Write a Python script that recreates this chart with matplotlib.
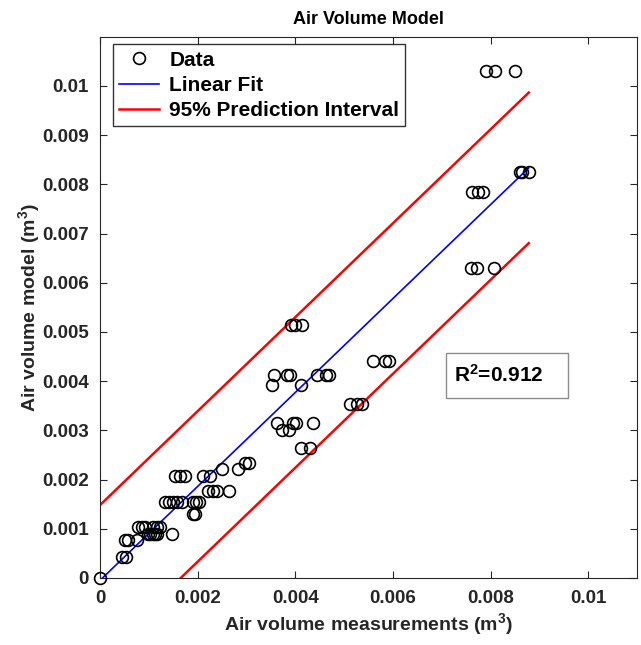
import matplotlib
matplotlib.use("Agg")
import matplotlib.pyplot as plt
from matplotlib.patches import Rectangle
import numpy as np

plt.rcParams['font.family'] = ['Liberation Sans', 'DejaVu Sans']
plt.rcParams['font.weight'] = 'bold'
plt.rcParams['mathtext.fontset'] = 'custom'
plt.rcParams['mathtext.rm'] = 'Liberation Sans:bold'
plt.rcParams['mathtext.bf'] = 'Liberation Sans:bold'
plt.rcParams['mathtext.it'] = 'Liberation Sans:bold'

# Measured (x) vs model (y) air volumes, m^3
meas_x = [0.0, 0.00045, 0.00053,
          0.00051, 0.00057, 0.00075,
          0.00078, 0.00086, 0.00092, 0.00108, 0.00116, 0.00123,
          0.00098, 0.00103, 0.00109, 0.00113, 0.00117, 0.00148,
          0.0019, 0.00195,
          0.00133, 0.00141, 0.0015, 0.00158, 0.00168, 0.0019, 0.00197, 0.00203,
          0.00221, 0.00232, 0.0024, 0.00264,
          0.00154, 0.00164, 0.00174, 0.00211, 0.00225,
          0.0025, 0.00283,
          0.00297, 0.00305,
          0.00412, 0.0043,
          0.00363, 0.00395, 0.00402, 0.00437,
          0.00372, 0.00388,
          0.00512, 0.00527, 0.00537,
          0.00352, 0.00412,
          0.00357, 0.00382, 0.0039, 0.00445, 0.00462, 0.00468,
          0.0056, 0.00583, 0.00592,
          0.00392, 0.004, 0.00413,
          0.0076, 0.00772, 0.00806,
          0.00762, 0.00775, 0.00785,
          0.0086, 0.00865, 0.00878,
          0.00791, 0.00809, 0.0085]
model_y = [0.0, 0.00043, 0.00043,
           0.00077, 0.00077, 0.00077,
           0.00103, 0.00103, 0.00103, 0.00103, 0.00103, 0.00103,
           0.00089, 0.00089, 0.00089, 0.00089, 0.00089, 0.00089,
           0.0013, 0.0013,
           0.00154, 0.00154, 0.00154, 0.00154, 0.00154, 0.00154, 0.00154, 0.00154,
           0.00176, 0.00176, 0.00176, 0.00176,
           0.00207, 0.00207, 0.00207, 0.00207, 0.00207,
           0.00221, 0.00221,
           0.00233, 0.00233,
           0.00265, 0.00265,
           0.00314, 0.00314, 0.00314, 0.00314,
           0.0030, 0.0030,
           0.00353, 0.00353, 0.00353,
           0.00392, 0.00392,
           0.00412, 0.00412, 0.00412, 0.00412, 0.00412, 0.00412,
           0.0044, 0.0044, 0.0044,
           0.00515, 0.00515, 0.00515,
           0.0063, 0.0063, 0.0063,
           0.00785, 0.00785, 0.00785,
           0.00825, 0.00825, 0.00825,
           0.0103, 0.0103, 0.0103]

fit_slope = 0.955
fit_intercept = -0.00005
pi_halfwidth = 0.00153
r_squared = 0.912

x_ticks = [0, 0.002, 0.004, 0.006, 0.008, 0.01]
x_tick_labels = ['0', '0.002', '0.004', '0.006', '0.008', '0.01']
y_ticks = [0, 0.001, 0.002, 0.003, 0.004, 0.005, 0.006, 0.007, 0.008, 0.009, 0.01]
y_tick_labels = ['0', '0.001', '0.002', '0.003', '0.004', '0.005', '0.006',
                 '0.007', '0.008', '0.009', '0.01']

fig = plt.figure(figsize=(6.41, 6.45), dpi=100)
ax = fig.add_axes([0.156, 0.104, 0.838, 0.839])

ax.plot(meas_x, model_y, linestyle='none', marker='o', markersize=8.5,
        markerfacecolor='none', markeredgecolor='black', markeredgewidth=1.2,
        label='Data', clip_on=False, zorder=3)

xf = np.array([0.0, max(meas_x)])
yf = fit_slope * xf + fit_intercept
ax.plot(xf, yf, color='blue', linewidth=1.2, label='Linear Fit', zorder=2)
ax.plot(xf, yf + pi_halfwidth, color='red', linewidth=1.8,
        label='95% Prediction Interval', zorder=2)
ax.plot(xf, yf - pi_halfwidth, color='red', linewidth=1.8, zorder=2)

ax.set_xlim(0, 0.011)
ax.set_ylim(0, 0.011)
ax.set_xticks(x_ticks)
ax.set_xticklabels(x_tick_labels)
ax.set_yticks(y_ticks)
ax.set_yticklabels(y_tick_labels)
ax.tick_params(direction='in', length=5, width=0.8, top=True, right=True,
               labelsize=13.5, colors='#262626', labelcolor='#262626')
ax.tick_params(axis='x', pad=9)
ax.tick_params(axis='y', pad=8)
for s in ax.spines.values():
    s.set_color('#262626')
    s.set_linewidth(0.8)

ax.set_xlabel(r'Air volume measurements (m$^\mathbf{3}$)', fontsize=14,
              fontweight='bold', color='#262626', labelpad=3)
ax.set_ylabel(r'Air volume model (m$^\mathbf{3}$)', fontsize=14,
              fontweight='bold', color='#262626', labelpad=0)
ax.set_title('Air Volume Model', fontsize=13, fontweight='bold', pad=9)

leg = ax.legend(loc='upper left', bbox_to_anchor=(0.024, 0.986), fontsize=15,
                frameon=True, fancybox=False, edgecolor='black',
                borderpad=0.3, labelspacing=0.3, handlelength=1.9,
                handletextpad=0.5, borderaxespad=0.0)
leg.get_frame().set_linewidth(1.0)
for t in leg.get_texts():
    t.set_fontweight('bold')

ax.add_patch(Rectangle((0.644, 0.333), 0.2275, 0.083, transform=ax.transAxes,
                       facecolor='white', edgecolor='#8c8c8c', linewidth=1.0,
                       zorder=4))
ax.text(0.659, 0.3745, 'R$^\\mathbf{2}$=' + f'{r_squared:.3f}',
        transform=ax.transAxes, fontsize=15, fontweight='bold',
        va='center', ha='left', zorder=5)

fig.savefig('out.png', dpi=100)
